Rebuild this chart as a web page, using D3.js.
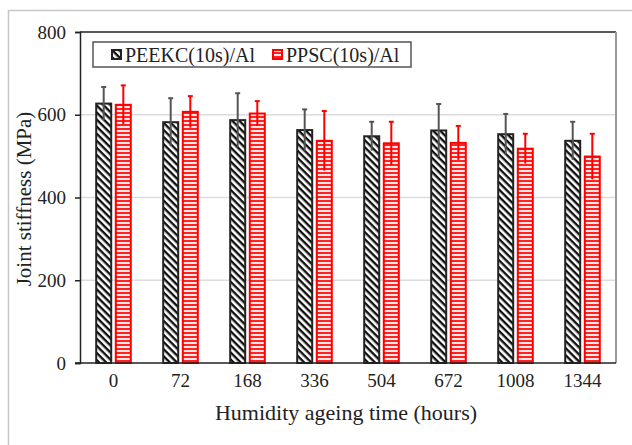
<!DOCTYPE html>
<html><head><meta charset="utf-8">
<script src="https://cdn.jsdelivr.net/npm/d3@7"></script>
<style>html,body{margin:0;padding:0;background:#fff}
svg text{font-family:"Liberation Serif","Times New Roman",Times,serif}</style>
</head><body>
<svg id="chart" width="632" height="445"></svg>
<script>
const categories = ["0","72","168","336","504","672","1008","1344"];
const seriesNames = ["PEEKC(10s)/Al","PPSC(10s)/Al"];
const peekc = [627,582,587,563,548,562,553,537];
const peekcErr = [40,58,65,50,35,64,49,46];
const ppsc = [624,607,603,537,531,532,518,499];
const ppscErr = [47,38,30,72,52,41,36,55];
const yTicks = [0,200,400,600,800];

const svg = d3.select("#chart");
const m = {l:80, r:616, t:32, b:363};

svg.append("path").attr("d","M8.5,445 V10.5 H632").attr("fill","none").attr("stroke","#c8c8c8").attr("stroke-width",1.5);

const defs = svg.append("defs");
const p1 = defs.append("pattern").attr("id","diag").attr("patternUnits","userSpaceOnUse")
  .attr("width",5).attr("height",5).attr("patternTransform","rotate(45)");
p1.append("rect").attr("width",5).attr("height",5).attr("fill","#fff");
p1.append("rect").attr("width",5).attr("height",2.4).attr("fill","#111");
const p2 = defs.append("pattern").attr("id","hstripe").attr("patternUnits","userSpaceOnUse")
  .attr("width",6).attr("height",4);
p2.append("rect").attr("width",6).attr("height",4).attr("fill","#fde8e8");
p2.append("rect").attr("y",0).attr("width",6).attr("height",2).attr("fill","#f22");

const x = d3.scaleBand().domain(categories).range([m.l,m.r]).padding(0);
const y = d3.scaleLinear().domain([0,800]).range([m.b,m.t]);

svg.append("g").selectAll("line").data(yTicks.filter(d=>d>0 && d<800)).join("line")
  .attr("x1",m.l).attr("x2",m.r).attr("y1",d=>y(d)).attr("y2",d=>y(d))
  .attr("stroke","#dcdcdc").attr("stroke-width",1.5);

svg.append("line").attr("x1",m.l).attr("x2",m.r).attr("y1",m.t).attr("y2",m.t).attr("stroke","#222").attr("stroke-width",1.5);
svg.append("line").attr("x1",m.r).attr("x2",m.r).attr("y1",m.t).attr("y2",m.b).attr("stroke","#999").attr("stroke-width",2);

const bw = 15, off = 9.8;
const series = [
  {vals:peekc, err:peekcErr, dx:-off, fill:"url(#diag)", stroke:"#222", ecol:"#555"},
  {vals:ppsc, err:ppscErr, dx:off, fill:"url(#hstripe)", stroke:"#f00", ecol:"#f00"}
];
series.forEach(s=>{
  const g = svg.append("g");
  const cx = (d,i)=>x(categories[i])+x.bandwidth()/2+s.dx;
  g.selectAll("rect").data(s.vals).join("rect")
    .attr("x",(d,i)=>cx(d,i)-bw/2).attr("width",bw)
    .attr("y",d=>y(d)).attr("height",d=>y(0)-y(d))
    .attr("fill",s.fill).attr("stroke",s.stroke).attr("stroke-width",2);
  g.selectAll("line.e").data(s.vals).join("line").attr("class","e")
    .attr("x1",(d,i)=>cx(d,i)).attr("x2",(d,i)=>cx(d,i))
    .attr("y1",(d,i)=>y(d+s.err[i])).attr("y2",(d,i)=>y(d-s.err[i]))
    .attr("stroke",s.ecol).attr("stroke-width",2);
  g.selectAll("line.c").data(s.vals).join("line").attr("class","c")
    .attr("x1",(d,i)=>cx(d,i)-2.5).attr("x2",(d,i)=>cx(d,i)+2.5)
    .attr("y1",(d,i)=>y(d+s.err[i])).attr("y2",(d,i)=>y(d+s.err[i]))
    .attr("stroke",s.ecol).attr("stroke-width",2);
});

const ya = svg.append("g").attr("transform",`translate(${m.l},0)`)
  .call(d3.axisLeft(y).tickValues(yTicks).tickSize(5).tickPadding(6));
ya.select(".domain").attr("stroke","#222").attr("stroke-width",1.5);
ya.selectAll(".tick line").attr("stroke","#222").attr("stroke-width",1.5);
ya.selectAll("text").attr("font-family",null).attr("font-size",19).attr("fill","#222").attr("dx",-3);

const xa = svg.append("g").attr("transform",`translate(0,${m.b})`)
  .call(d3.axisBottom(x).tickSize(0).tickPadding(11));
xa.select(".domain").attr("d",`M${m.l-5},0H${m.r}`).attr("stroke","#222").attr("stroke-width",1.5);
xa.selectAll("text").attr("font-family",null).attr("font-size",19).attr("fill","#222");
svg.selectAll("g").attr("font-family",null);

svg.append("text").attr("x",346).attr("y",420).attr("text-anchor","middle")
  .attr("font-size",22).attr("fill","#222").text("Humidity ageing time (hours)");
svg.append("text").attr("transform","translate(31,199) rotate(-90)").attr("text-anchor","middle")
  .attr("font-size",21).attr("fill","#222").text("Joint stiffness (MPa)");

const lg = svg.append("g");
lg.append("rect").attr("x",93).attr("y",42).attr("width",318).attr("height",25)
  .attr("fill","#fff").attr("stroke","#555").attr("stroke-width",1.5);
const items = [{x:112, fill:"url(#diag)", stroke:"#222"},{x:273, fill:"url(#hstripe)", stroke:"#f00"}];
items.forEach((it,i)=>{
  lg.append("rect").attr("x",it.x).attr("y",50).attr("width",9).attr("height",9)
    .attr("fill",it.fill).attr("stroke",it.stroke).attr("stroke-width",2);
  lg.append("text").attr("x",it.x+13).attr("y",62).attr("font-size",20)
    .attr("fill","#222").text(seriesNames[i]);
});
</script>
</body></html>
